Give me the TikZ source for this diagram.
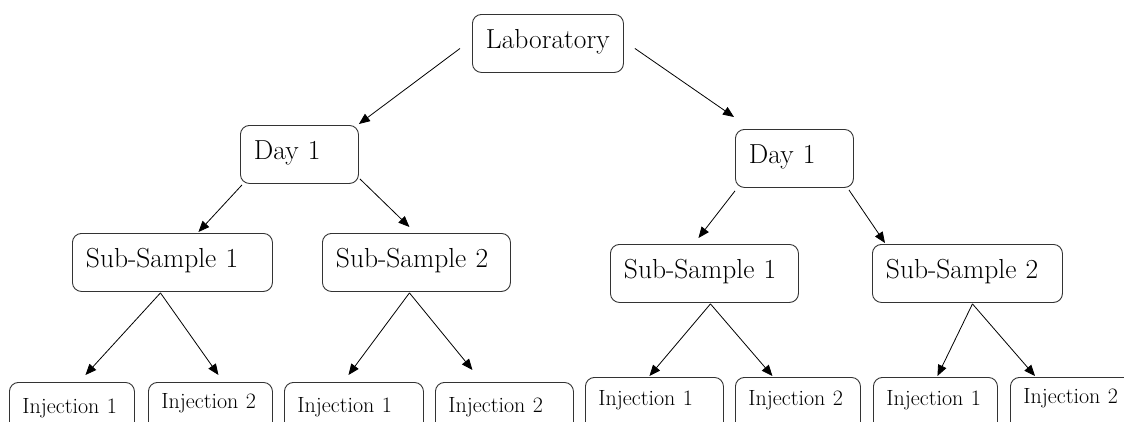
\documentclass[tikz,border=0pt]{standalone}
\usetikzlibrary{arrows.meta}
\tikzset{
  box/.style={draw=black!80, line width=0.9pt, rounded corners=9pt, anchor=north west,
    font=\fontsize{27.5}{30}\selectfont, align=left, inner xsep=13.5pt, inner ysep=0pt,
    text height=18pt, text depth=8pt, minimum height=58pt},
  inj/.style={draw=black!80, line width=0.9pt, rounded corners=9pt, anchor=north west,
    font=\fontsize{22}{24}\selectfont, align=left, inner xsep=13pt, inner ysep=#1,
    text height=15pt, text depth=30pt},
  arr/.style={draw=black, line width=0.8pt, -{Triangle[length=11pt,width=9pt]}}
}
\begin{document}
\begin{tikzpicture}[x=1pt,y=-1pt]
\path[use as bounding box, clip] (0,0) rectangle (1124,421);
\fill[white] (0,0) rectangle (1124,421);
% level 0
\node[box, text width=124pt] (lab) at (472,14) {Laboratory};
% level 1
\node[box, text width=91pt] (d1l) at (240,125) {Day 1};
\node[box, text width=91pt] (d1r) at (735,129) {Day 1};
% level 2
\node[box, text width=173pt] (ssl1) at (72,233) {Sub-Sample 1};
\node[box, text width=161pt] (ssl2) at (322,233) {Sub-Sample 2};
\node[box, text width=161pt] (ssr1) at (610,244) {Sub-Sample 1};
\node[box, text width=163pt] (ssr2) at (872,244) {Sub-Sample 2};
% level 3
\node[inj=16pt, text width=99pt] (il1) at (9,382) {Injection 1};
\node[inj=11pt, text width=98pt] (il2) at (148,382) {Injection 2};
\node[inj=15pt, text width=113pt] (il3) at (284,382) {Injection 1};
\node[inj=15pt, text width=112pt] (il4) at (435,382) {Injection 2};
\node[inj=13pt, text width=112pt] (ir1) at (585,377) {Injection 1};
\node[inj=13pt, text width=99pt] (ir2) at (735,377) {Injection 2};
\node[inj=13pt, text width=98pt] (ir3) at (873,377) {Injection 1};
\node[inj=11pt, text width=99pt] (ir4) at (1010,377) {Injection 2};
% connectors
\draw[arr] ([shift={(-12,5)}]lab.west) -- ([shift={(0,-1)}]d1l.north east);
\draw[arr] ([shift={(11,5)}]lab.east) -- ([shift={(-1,-12)}]d1r.north west);
\draw[arr] ([shift={(2,1)}]d1l.south west) -- ([shift={(26,-1)}]ssl1.north);
\draw[arr] ([shift={(1,-5)}]d1l.south east) -- ([shift={(-7,-6)}]ssl2.north);
\draw[arr] ([shift={(0,3)}]d1r.south west) -- ([shift={(-6,-6)}]ssr1.north);
\draw[arr] ([shift={(-5,2)}]d1r.south east) -- ([shift={(13,-1)}]ssr2.north west);
\draw[arr] ([shift={(-12,1)}]ssl1.south) -- ([shift={(13.5,-7)}]il1.north);
\draw[arr] ([shift={(-12,1)}]ssl1.south) -- ([shift={(8,-7)}]il2.north);
\draw[arr] ([shift={(-7,1)}]ssl2.south) -- ([shift={(-5.5,-7)}]il3.north);
\draw[arr] ([shift={(-7,1)}]ssl2.south) -- ([shift={(-32,-12)}]il4.north);
\draw[arr] ([shift={(6,1)}]ssr1.south) -- ([shift={(-5,-1)}]ir1.north);
\draw[arr] ([shift={(6,1)}]ssr1.south) -- ([shift={(-25.5,-1)}]ir2.north);
\draw[arr] ([shift={(5,1)}]ssr2.south) -- ([shift={(2,-1)}]ir3.north);
\draw[arr] ([shift={(5,1)}]ssr2.south) -- ([shift={(25,-1)}]ir4.north west);
\end{tikzpicture}
\end{document}
